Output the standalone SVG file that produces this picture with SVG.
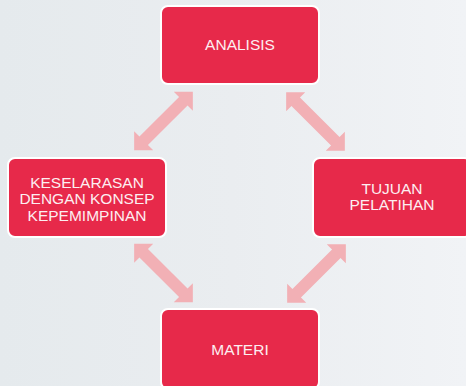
<svg xmlns="http://www.w3.org/2000/svg" xmlns:xlink="http://www.w3.org/1999/xlink" width="466" height="386" viewBox="0 0 466 386">
  <defs>
    <linearGradient id="bg" x1="0" y1="0" x2="1" y2="0">
      <stop offset="0" stop-color="#e5eaed"/>
      <stop offset="0.5" stop-color="#eaedf0"/>
      <stop offset="1" stop-color="#f1f3f6"/>
    </linearGradient>
    <!-- double-headed block arrow, centred on the origin, pointing along x -->
    <path id="dbl-arrow" d="M-41.5,0 L-28,-13.5 L-28,-6 L28,-6 L28,-13.5 L41.5,0 L28,13.5 L28,6 L-28,6 L-28,13.5 Z"/>
    <style>
      .box { fill: #e7294a; stroke: #ffffff; stroke-width: 2; }
      .label { font-family: "Liberation Sans", Arial, sans-serif; font-size: 15.5px; fill: #fdeef1; text-anchor: middle; }
      .arrow { fill: #f2b0b5; }
    </style>
  </defs>

  <rect x="0" y="0" width="466" height="386" fill="url(#bg)"/>

  <g id="connectors">
    <use xlink:href="#dbl-arrow" class="arrow" transform="translate(163.5,121) rotate(-45)"/>
    <use xlink:href="#dbl-arrow" class="arrow" transform="translate(315.5,121.5) rotate(45)"/>
    <use xlink:href="#dbl-arrow" class="arrow" transform="translate(163.5,273) rotate(45)"/>
    <use xlink:href="#dbl-arrow" class="arrow" transform="translate(316.5,273.5) rotate(-45)"/>
  </g>

  <g id="analisis">
    <rect class="box" x="161" y="6" width="158" height="78" rx="7"/>
    <text class="label" x="240" y="49.5">ANALISIS</text>
  </g>

  <g id="keselarasan">
    <rect class="box" x="8" y="158" width="158" height="79" rx="7"/>
    <text class="label" x="87" y="188">KESELARASAN</text>
    <text class="label" x="87" y="204.3">DENGAN KONSEP</text>
    <text class="label" x="87" y="220.6">KEPEMIMPINAN</text>
  </g>

  <g id="tujuan">
    <rect class="box" x="313" y="158" width="158" height="79" rx="7"/>
    <text class="label" x="392" y="193.5">TUJUAN</text>
    <text class="label" x="392" y="210">PELATIHAN</text>
  </g>

  <g id="materi">
    <rect class="box" x="161" y="309" width="158" height="80" rx="7"/>
    <text class="label" x="240" y="355">MATERI</text>
  </g>
</svg>
